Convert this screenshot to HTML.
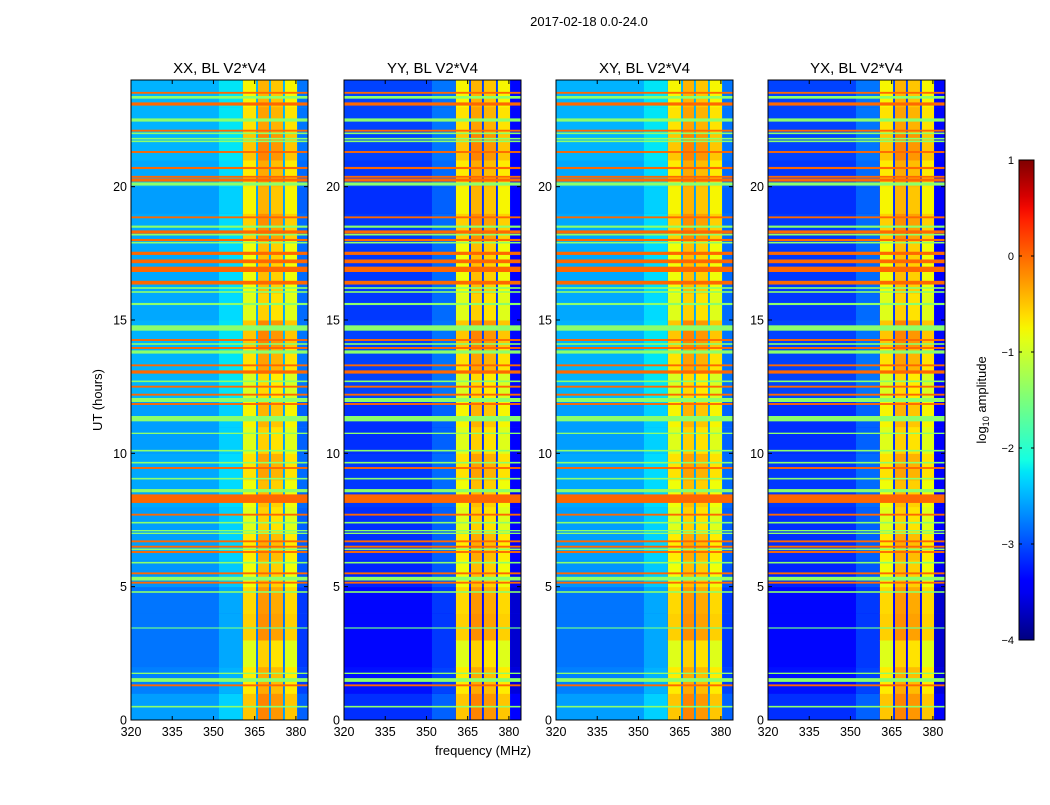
<!DOCTYPE html>
<html><head><meta charset="utf-8"><style>
body{margin:0;background:#fff;}
svg text{font-family:"Liberation Sans",sans-serif;}
</style></head><body>
<svg id="fig" width="1050" height="800" xmlns="http://www.w3.org/2000/svg">
<rect width="1050" height="800" fill="#fff"/>
<text x="589" y="26" font-size="13" text-anchor="middle">2017-02-18 0.0-24.0</text>
<text x="483" y="755" font-size="13" text-anchor="middle">frequency (MHz)</text>
<text x="0" y="0" font-size="13" text-anchor="middle" transform="translate(102,400) rotate(-90)">UT (hours)</text>
<g id="panels"></g>
<g id="cbar"></g>
</svg>
<script>
// ---- data ----
const panelTitles = ["XX, BL V2*V4","YY, BL V2*V4","XY, BL V2*V4","YX, BL V2*V4"];
const panelBgOffset = [0, -0.55, 0, -0.55];
const xTicks = [320,335,350,365,380];
const yTicks = [0,5,10,15,20];
const cbarTicks = [1,0,-1,-2,-3,-4];
// background level per hour (0..23)
const bgHourly = [-2.6,-2.75,-2.8,-2.8,-2.8,-2.65,-2.6,-2.6,-2.55,-2.55,-2.6,-2.6,-2.5,-2.5,-2.5,-2.55,-2.55,-2.55,-2.55,-2.6,-2.55,-2.5,-2.5,-2.5];
// frequency segments of background: [fStart,fEnd,offset]
const bgFreq = [[320,352,0],[352,360.5,0.25],[380.5,384.4,-0.3]];
// vertical RFI columns: [fStart,fEnd,level]
const colBands = [[360.7,365.5,-0.8],[366.2,370.2,-0.45],[370.9,375.3,-0.55],[376.0,380.4,-0.8]];
// hourly modulation of vertical columns
const colMod = [0.3,0.1,-0.1,0.25,0.2,0.0,0.1,-0.1,0.0,0.15,-0.1,0.05,-0.15,0.15,0.3,-0.1,0.0,0.0,0.25,0.05,0.1,0.3,0.15,0.05];
// horizontal bands: [timeHours, widthHours, level]
const rowBands = [
[23.52,0.07,0],[23.35,0.1,-1.4],[23.1,0.12,0],[22.5,0.12,-1.4],[22.1,0.07,0],[22.0,0.06,-1.4],[21.8,0.06,-1.4],[21.7,0.06,-1.4],
[21.3,0.07,0],[20.7,0.08,0],[20.37,0.07,0],[20.25,0.12,0],[20.1,0.12,-1.4],[18.85,0.07,0],[18.5,0.08,-1.4],[18.3,0.12,0],
[18.2,0.06,-1.4],[18.0,0.08,0],[17.9,0.06,-1.4],[17.5,0.12,0],[17.2,0.14,0],[16.9,0.2,0],[16.4,0.14,0],[16.2,0.06,-1.4],
[16.05,0.06,-1.4],[15.6,0.08,-1.4],[14.7,0.2,-1.4],[14.25,0.07,0],[14.1,0.06,-1.4],[13.95,0.07,0],[13.8,0.12,-1.4],[13.3,0.07,0],
[13.05,0.12,0],[12.7,0.06,-1.4],[12.5,0.07,0],[12.2,0.07,0],[12.0,0.15,-1.4],[11.85,0.07,0],[11.3,0.2,-1.4],[10.75,0.05,-1.4],
[10.1,0.06,-1.4],[9.65,0.06,-1.4],[9.45,0.07,0],[9.05,0.06,-1.4],[8.6,0.12,-1.4],[8.3,0.32,0],[7.7,0.07,0],[7.4,0.06,-1.4],
[7.1,0.05,-1.4],[7.0,0.05,-1.4],[6.7,0.07,0],[6.5,0.07,0],[6.4,0.06,-1.4],[6.3,0.07,0],[5.9,0.06,-1.4],[5.5,0.07,0],
[5.3,0.14,-1.4],[5.15,0.07,0],[4.8,0.06,-1.4],[3.45,0.04,-1.6],[1.75,0.05,-1.4],[1.5,0.14,-1.4],[1.3,0.07,0],[0.5,0.06,-1.4]
];
// ---- layout ----
const panelX = [131,344,556,768], PW = 177, PT = 80, PH = 640;
const fMin = 320, fMax = 384.4, tMin = 0, tMax = 24, vMin = -4, vMax = 1;
const NS = "http://www.w3.org/2000/svg";
function clamp(v){return Math.max(0,Math.min(1,v));}
function interp(pts, t){
  for (let i = 1; i < pts.length; i++) {
    if (t <= pts[i][0]) { const a = pts[i-1], b = pts[i]; return a[1] + (b[1]-a[1])*(t-a[0])/(b[0]-a[0]); }
  }
  return pts[pts.length-1][1];
}
const RP = [[0,0],[0.35,0],[0.66,1],[0.89,1],[1,0.5]];
const GP = [[0,0],[0.125,0],[0.375,1],[0.64,1],[0.91,0],[1,0]];
const BP = [[0,0.5],[0.11,1],[0.34,1],[0.65,0],[1,0]];
function jet(v){
  const t = clamp((v-vMin)/(vMax-vMin));
  return `rgb(${Math.round(interp(RP,t)*255)},${Math.round(interp(GP,t)*255)},${Math.round(interp(BP,t)*255)})`;
}
function mk(tag, attrs, parent){
  const e = document.createElementNS(NS, tag);
  for (const k in attrs) e.setAttribute(k, attrs[k]);
  parent.appendChild(e); return e;
}
const panelsG = document.getElementById('panels');
panelTitles.forEach((title, p) => {
  const x0 = panelX[p];
  const xs = f => x0 + (f - fMin) / (fMax - fMin) * PW;
  const ys = t => PT + PH - (t - tMin) / (tMax - tMin) * PH;
  const g = mk('g', {}, panelsG);
  
  
  const hm = mk('g', {}, g);
  
  
  bgHourly.forEach((lv, h) => {
    const r = mk('rect', {x: xs(fMin), y: ys(h+1), width: xs(fMax)-xs(fMin), height: ys(h)-ys(h+1)+0.5, fill: jet(lv + panelBgOffset[p])}, hm);
    
    
    bgFreq.forEach(seg => {
      if (seg[2] === 0) return;
      const c = mk('rect', {x: xs(seg[0]), y: ys(h+1), width: xs(seg[1])-xs(seg[0]), height: ys(h)-ys(h+1)+0.5, fill: jet(lv + panelBgOffset[p] + seg[2])}, hm);
      
      
    });
  });
  colBands.forEach((cb) => {
    colMod.forEach((m, h) => {
      const c = mk('rect', {x: xs(cb[0]), y: ys(h+1), width: xs(cb[1])-xs(cb[0]), height: ys(h)-ys(h+1)+0.5, fill: jet(cb[2] + m)}, hm);
      
      
    });
  });
  rowBands.forEach(rb => {
    const h = Math.max(1.2, rb[1] / (tMax - tMin) * PH);
    const r = mk('rect', {x: xs(fMin), y: ys(rb[0]) - h/2, width: xs(fMax)-xs(fMin), height: h, fill: jet(rb[2])}, hm);
    
    
  });
  const fr = mk('rect', {x: x0, y: PT, width: PW, height: PH, fill: 'none', stroke: '#000', 'stroke-width': 1}, g);
  
  
  const tt = mk('text', {x: x0 + PW/2, y: 73, 'font-size': 15, 'text-anchor': 'middle'}, g);
  tt.textContent = title;
  
  
  xTicks.forEach(f => {
    const x = xs(f);
    mk('line', {x1: x, x2: x, y1: PT+PH, y2: PT+PH-4, stroke: '#000'}, g);
    mk('line', {x1: x, x2: x, y1: PT, y2: PT+4, stroke: '#000'}, g);
    const t = mk('text', {x: x, y: PT+PH+16, 'font-size': 12.5, 'text-anchor': 'middle'}, g);
    t.textContent = f;
    
    
  });
  yTicks.forEach(v => {
    const y = ys(v);
    mk('line', {x1: x0, x2: x0+4, y1: y, y2: y, stroke: '#000'}, g);
    mk('line', {x1: x0+PW, x2: x0+PW-4, y1: y, y2: y, stroke: '#000'}, g);
    const t = mk('text', {x: x0-4, y: y+4.5, 'font-size': 12.5, 'text-anchor': 'end'}, g);
    t.textContent = v;
    
    
  });
});
const cb = document.getElementById('cbar');


const CX = 1019, CW = 15, CT = 160, CH = 480;
const defs = mk('defs', {}, cb);
const lg = mk('linearGradient', {id: 'jetg', x1: 0, y1: 1, x2: 0, y2: 0}, defs);
for (let i = 0; i <= 40; i++) {
  const v = vMin + (vMax - vMin) * i / 40;
  mk('stop', {offset: (i/40), 'stop-color': jet(v)}, lg);
}
mk('rect', {x: CX, y: CT, width: CW, height: CH, fill: 'url(#jetg)', stroke: '#000'}, cb);
cbarTicks.forEach(v => {
  const y = CT + CH - (v - vMin) / (vMax - vMin) * CH;
  mk('line', {x1: CX, x2: CX+3, y1: y, y2: y, stroke: '#000'}, cb);
  mk('line', {x1: CX+CW, x2: CX+CW-3, y1: y, y2: y, stroke: '#000'}, cb);
  const t = mk('text', {x: CX-5, y: y+4, 'font-size': 11, 'text-anchor': 'end'}, cb);
  t.textContent = v < 0 ? '\u2212' + (-v) : String(v);
  
  
});
const cl = mk('text', {x: 0, y: 0, 'font-size': 13, 'text-anchor': 'middle', transform: 'translate(986,400) rotate(-90)'}, cb);
cl.innerHTML = 'log<tspan font-size="9" dy="3">10</tspan><tspan dy="-3"> amplitude</tspan>';


</script>
</body></html>
